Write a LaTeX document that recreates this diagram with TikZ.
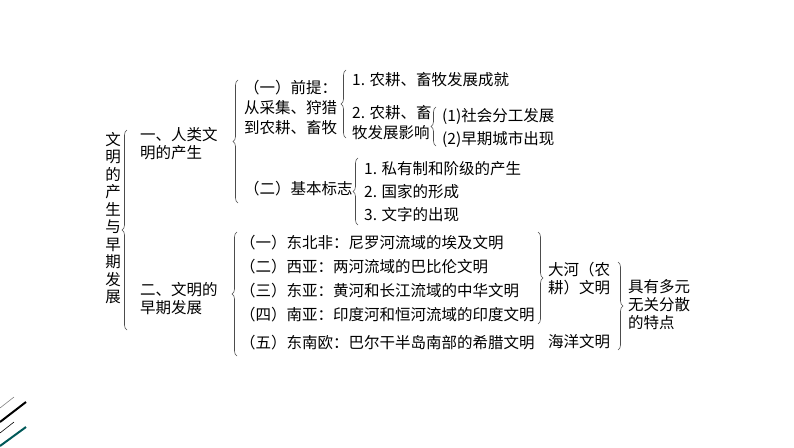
\documentclass[tikz,border=0pt]{standalone}
\usepackage{fontspec}
\setmainfont{Noto Sans CJK SC}
\usetikzlibrary{decorations.pathreplacing}
\begin{document}
\begin{tikzpicture}[x=1pt,y=-1pt,
 t/.style={anchor=west,inner sep=0pt,font=\fontsize{15.5}{17}\selectfont},
 br/.style={draw=black!70,line width=0.6pt,decorate,decoration={brace,amplitude=5pt}}]
\useasboundingbox (0,0) rectangle (794,447);
\fill[white] (0,0) rectangle (794,447);
\node[inner sep=0pt,font=\fontsize{15.5}{17.5}\selectfont,align=center] (title) at (113,218) {文\\明\\的\\产\\生\\与\\早\\期\\发\\展};
\draw[br] (127,330) -- (127,130);
\node[t] (a1) at (140,135) {一、人类文};
\node[t] (a2) at (140,153) {明的产生};
\draw[br] (238,203) -- (238,80);
\node[t] (b1) at (244,88) {（一）前提：};
\node[t] (b2) at (244,108) {从采集、狩猎};
\node[t] (b3) at (244,128) {到农耕、畜牧};
\draw[br] (346,138) -- (346,70);
\node[t] (c1) at (352,80) {1. 农耕、畜牧发展成就};
\node[t] (c2) at (352,113) {2. 农耕、畜};
\node[t] (c3) at (352,133) {牧发展影响};
\draw[br] (436,146) -- (436,107);
\node[t] (d1) at (442,116) {(1)社会分工发展};
\node[t] (d2) at (442,139) {(2)早期城市出现};
\node[t] (b4) at (244,189) {（二）基本标志};
\draw[br] (358,225) -- (358,158);
\node[t] (e1) at (364,169) {1. 私有制和阶级的产生};
\node[t] (e2) at (364,192) {2. 国家的形成};
\node[t] (e3) at (364,215) {3. 文字的出现};
\node[t] (a3) at (140,290) {二、文明的};
\node[t] (a4) at (140,308) {早期发展};
\draw[br] (237,356) -- (237,232);
\node[t] (f1) at (240,243) {（一）东北非：尼罗河流域的埃及文明};
\node[t] (f2) at (240,267) {（二）西亚：两河流域的巴比伦文明};
\node[t] (f3) at (240,291) {（三）东亚：黄河和长江流域的中华文明};
\node[t] (f4) at (240,315) {（四）南亚：印度河和恒河流域的印度文明};
\node[t] (f5) at (240,343) {（五）东南欧：巴尔干半岛南部的希腊文明};
\draw[br] (538,232) -- (538,324);
\node[t] (g1) at (548,270) {大河（农};
\node[t] (g2) at (548,288) {耕）文明};
\node[t] (g3) at (548,342) {海洋文明};
\draw[br] (618,262) -- (618,350);
\node[t] (h1) at (628,287) {具有多元};
\node[t] (h2) at (628,305) {无关分散};
\node[t] (h3) at (628,323) {的特点};
\draw[gray,line width=0.6pt] (0,408) -- (14,397);
\draw[black,line width=2pt] (0,422) -- (26,402);
\draw[black,line width=0.6pt] (0,433) -- (14,422);
\draw[teal!70!black,line width=2pt] (0,446) -- (26,427);
\end{tikzpicture}
\end{document}
